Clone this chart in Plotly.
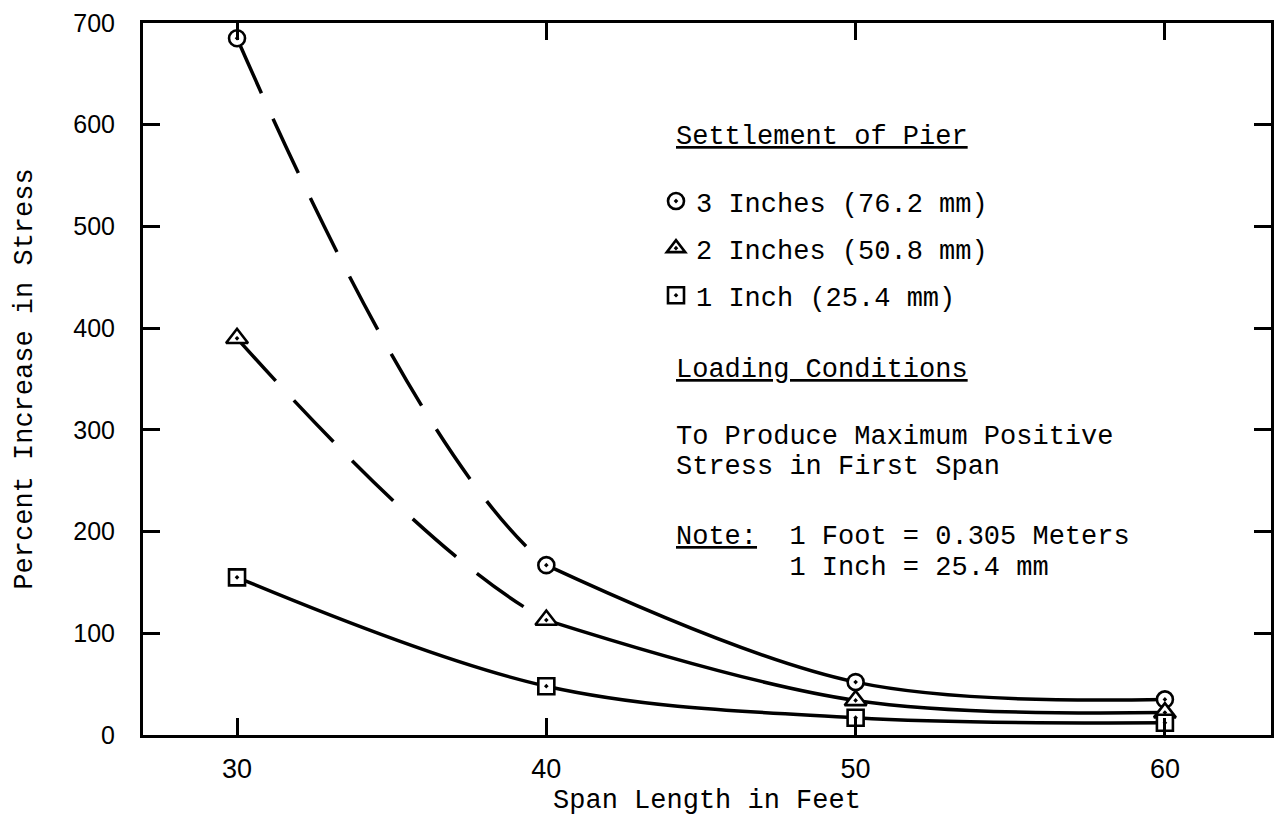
import math
import plotly.graph_objects as go

# ---------------- data ----------------
span_ft = [30, 40, 50, 60]
stress_3in = [685, 167, 52, 35]
stress_2in = [390, 113, 34, 22]
stress_1in = [155, 48, 17, 12]

series_names = ["3 Inches (76.2 mm)", "2 Inches (50.8 mm)", "1 Inch (25.4 mm)"]
series_values = [stress_3in, stress_2in, stress_1in]
series_symbols = ["circle-dot", "triangle-up-dot", "square-dot"]
series_sizes = [16, 19, 16]
series_dashed_first = [True, True, False]

x_ticks = [30, 40, 50, 60]
y_ticks = [0, 100, 200, 300, 400, 500, 600, 700]

# ---------------- layout geometry ----------------
W, H = 1281, 816
ML, MR, MT, MB = 143, 10, 23, 81
X_RANGE = [26.96, 63.43]
Y_RANGE = [0, 700]
PW, PH = W - ML - MR, H - MT - MB

MONO = "Liberation Mono"
SANS = "Liberation Sans"
INK = "black"


def px(x):
    return ML + (x - X_RANGE[0]) / (X_RANGE[1] - X_RANGE[0]) * PW


def py(y):
    return MT + (Y_RANGE[1] - y) / (Y_RANGE[1] - Y_RANGE[0]) * PH


def tangent(p0, p1, p2, s=1.0):
    d1x, d1y = p0[0] - p1[0], p0[1] - p1[1]
    d2x, d2y = p2[0] - p1[0], p2[1] - p1[1]
    d1a = (d1x * d1x + d1y * d1y) ** 0.25
    d2a = (d2x * d2x + d2y * d2y) ** 0.25
    numx = (d2a * d2a * d1x - d1a * d1a * d2x) * s
    numy = (d2a * d2a * d1y - d1a * d1a * d2y) * s
    den1 = 3 * d2a * (d1a + d2a)
    return (p1[0] + numx / den1, p1[1] + numy / den1)


def first_segment_length(xs, ys):
    p = [(px(a), py(b)) for a, b in zip(xs[:3], ys[:3])]
    c = tangent(p[0], p[1], p[2])
    n, L = 400, 0.0
    prev = p[0]
    for i in range(1, n + 1):
        t = i / n
        q = ((1 - t) ** 2 * p[0][0] + 2 * (1 - t) * t * c[0] + t * t * p[1][0],
             (1 - t) ** 2 * p[0][1] + 2 * (1 - t) * t * c[1] + t * t * p[1][1])
        L += math.hypot(q[0] - prev[0], q[1] - prev[1])
        prev = q
    return L


def dash_pattern(L, dash=56, gap=26):
    n = max(1, round(L / (dash + gap)))
    period = L / n
    d = period * dash / (dash + gap)
    g = period - d
    parts = []
    for i in range(n):
        parts.append(f"{d:.1f}px")
        parts.append(f"{(g + 4000) if i == n - 1 else g:.1f}px")
    return ",".join(parts)


def paper_x(pxv):
    return (pxv - ML) / PW


def paper_y(pyv):
    return (MT + PH - pyv) / PH


fig = go.Figure()

# curves
for vals, dashed in zip(series_values, series_dashed_first):
    if dashed:
        L = first_segment_length(span_ft, vals)
        fig.add_trace(go.Scatter(
            x=span_ft[:3], y=vals[:3], mode="lines",
            line=dict(color=INK, width=3.5, shape="spline", dash=dash_pattern(L)),
            showlegend=False, hoverinfo="skip"))
        fig.add_trace(go.Scatter(
            x=span_ft[1:], y=vals[1:], mode="lines",
            line=dict(color=INK, width=3.5, shape="spline"),
            showlegend=False, hoverinfo="skip"))
    else:
        fig.add_trace(go.Scatter(
            x=span_ft, y=vals, mode="lines",
            line=dict(color=INK, width=3.5, shape="spline"),
            showlegend=False, hoverinfo="skip"))

# markers (also legend entries)
for i, (name, vals, sym, sz) in enumerate(zip(series_names, series_values,
                                               series_symbols, series_sizes)):
    fig.add_trace(go.Scatter(
        x=span_ft, y=vals, mode="markers", name=name,
        legendgroup=f"g{i}",
        marker=dict(symbol=sym, size=sz, color="white",
                    line=dict(color=INK, width=2.6)),
        showlegend=True))

axis_common = dict(
    showgrid=False, zeroline=False, showline=True, linecolor=INK, linewidth=3,
    mirror="ticks", ticks="inside", ticklen=17, tickwidth=2.5, tickcolor=INK,
)

fig.update_layout(
    width=W, height=H,
    margin=dict(l=ML, r=MR, t=MT, b=MB, pad=0),
    paper_bgcolor="white", plot_bgcolor="white",
    font=dict(family=MONO, size=27, color=INK),
    xaxis=dict(
        range=X_RANGE, tickvals=x_ticks, ticktext=[str(v) for v in x_ticks],
        tickfont=dict(family=SANS, size=27, color=INK), ticklabelstandoff=8,
        title=dict(text="Span Length in Feet", font=dict(family=MONO, size=27), standoff=10),
        automargin=False, **axis_common),
    yaxis=dict(
        range=Y_RANGE, tickvals=y_ticks, ticktext=[str(v) for v in y_ticks],
        tickfont=dict(family=SANS, size=25, color=INK), ticklabelstandoff=20,
        title=dict(text="Percent Increase in Stress", font=dict(family=MONO, size=27), standoff=33),
        automargin=False, **axis_common),
    legend=dict(
        x=paper_x(656), y=paper_y(177), xanchor="left", yanchor="top",
        font=dict(family=MONO, size=27, color=INK),
        bgcolor="rgba(0,0,0,0)", borderwidth=0,
        traceorder="grouped", tracegroupgap=9, itemclick=False,
    ),
    showlegend=True,
)

NB = "\u00a0"
text_lines = [
    ("<u>Settlement of Pier</u>", 674, 137),
    ("<u>Loading Conditions</u>", 674, 370),
    ("To Produce Maximum Positive", 674, 437),
    ("Stress in First Span", 674, 467),
    ("<u>Note:</u>" + NB * 2 + "1 Foot = 0.305 Meters", 674, 537),
    (NB * 7 + "1 Inch = 25.4 mm", 674, 568),
]
for txt, x0, y0 in text_lines:
    fig.add_annotation(
        text=txt, xref="paper", yref="paper", x=paper_x(x0), y=paper_y(y0),
        xanchor="left", yanchor="middle", showarrow=False,
        font=dict(family=MONO, size=27, color=INK))

fig.write_html("out.html", config={"displayModeBar": False},
               post_script="document.body.style.margin='0';")
